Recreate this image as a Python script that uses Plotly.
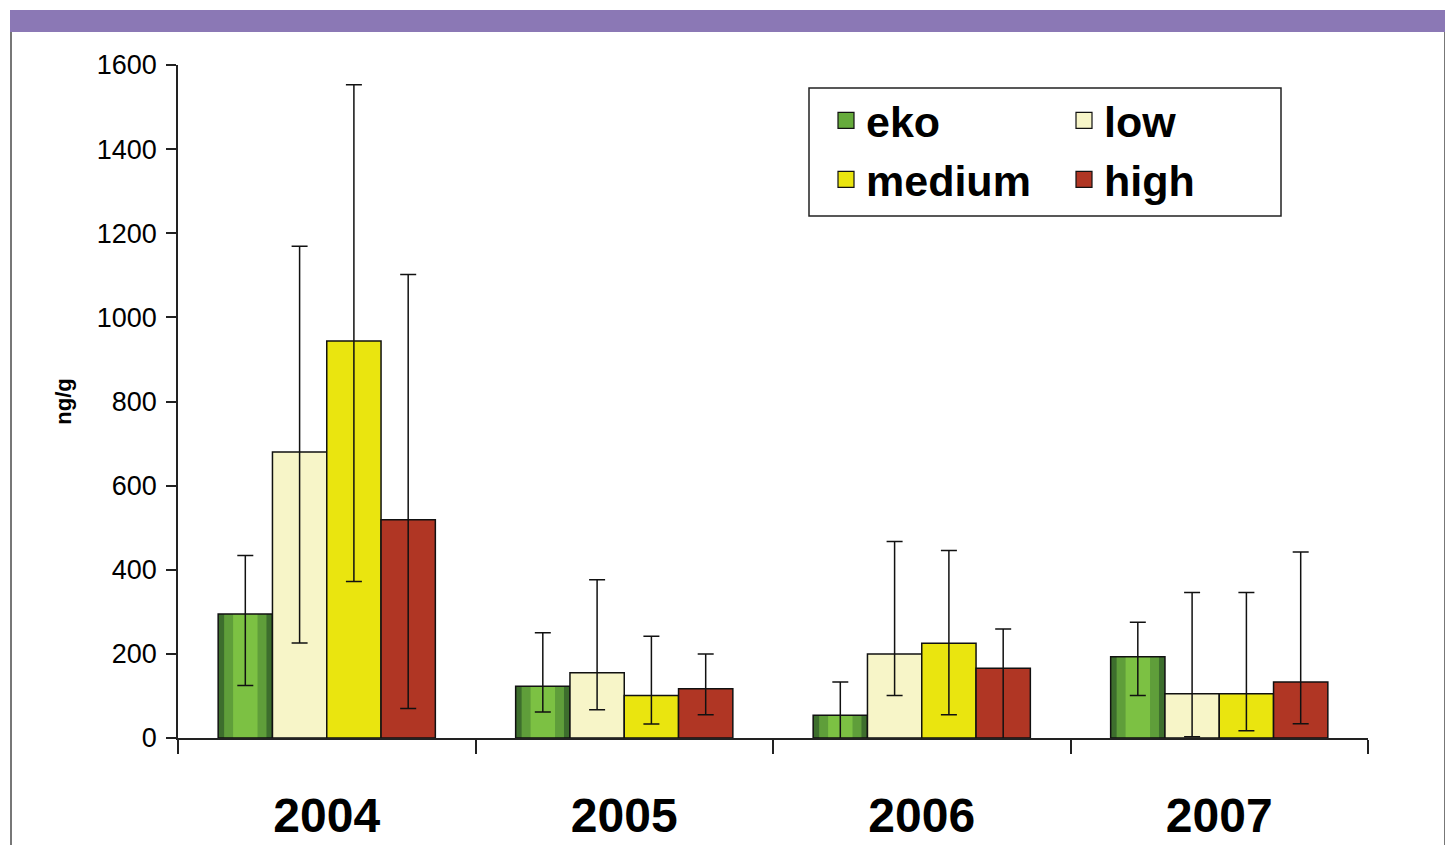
import plotly.graph_objects as go

# data
years = ["2004", "2005", "2006", "2007"]
groups = ["eko", "low", "medium", "high"]

eko = [295, 123, 54, 193]
eko_up = [139, 127, 79, 82]
eko_down = [170, 61, 79, 92]

low = [680, 155, 200, 105]
low_up = [489, 221, 267, 241]
low_down = [454, 88, 99, 102]

medium = [944, 101, 225, 105]
medium_up = [609, 141, 221, 241]
medium_down = [572, 68, 170, 88]

high = [519, 117, 166, 133]
high_up = [583, 83, 93, 309]
high_down = [449, 62, 190, 99]

colors = {"eko": "#66ab3c", "low": "#f7f5c8", "medium": "#eae50f", "high": "#b03624"}
eko_shades = ["#3d6e2d", "#5f9e3a", "#7cc143"]  # edge -> centre, fakes the cylinder look
legend_of = {"eko": "legend", "medium": "legend", "low": "legend2", "high": "legend2"}

series = {
    "eko": (eko, eko_up, eko_down),
    "low": (low, low_up, low_down),
    "medium": (medium, medium_up, medium_down),
    "high": (high, high_up, high_down),
}

# the page body has an 8px margin, so the figure is shifted by that much
OFF = 8
W, H = 1453 - OFF, 845 - OFF
L, R, T, B = 178, 1368, 65, 738  # plot area in reference px


def px(x):
    return (x - L) / (R - L)


def py(y):
    return (B - y) / (B - T)


GROUP = 0.73
BW = GROUP / len(groups)

fig = go.Figure()
for i, name in enumerate(groups):
    vals, up, down = series[name]
    off = -GROUP / 2 + i * BW
    err = dict(type="data", symmetric=False, array=up, arrayminus=down,
               color="#111111", thickness=1.5, width=8)
    if name == "eko":
        # shaded layers, no outline
        for frac, shade in zip([1.0, 0.78, 0.45], eko_shades):
            fig.add_trace(go.Bar(
                x=years, y=vals, width=BW * frac, offset=off + BW * (1 - frac) / 2,
                marker=dict(color=shade, line=dict(width=0)),
                showlegend=False, hoverinfo="skip",
            ))
        fill = "rgba(0,0,0,0)"
    else:
        fill = colors[name]
    fig.add_trace(go.Bar(
        x=years, y=vals, name=name, width=BW, offset=off,
        marker=dict(color=fill, line=dict(color="#111111", width=1.5)),
        error_y=err, showlegend=False,
    ))

# legend entries (square markers give a bigger swatch than bar icons)
for name in groups:
    fig.add_trace(go.Scatter(
        x=[None], y=[None], mode="markers", name=name,
        legend=legend_of[name], legendgroup=name,
        marker=dict(symbol="square", size=16, color=colors[name],
                    line=dict(color="#111111", width=1.2)),
    ))

legend_font = dict(family="Liberation Sans, Arial, sans-serif", size=43, color="#000000", weight="bold")

fig.update_layout(
    width=W,
    height=H,
    margin=dict(l=L - OFF, r=1453 - R, t=T - OFF, b=845 - B, pad=0, autoexpand=False),
    paper_bgcolor="white",
    plot_bgcolor="white",
    barmode="overlay",
    font=dict(family="Liberation Sans, Arial, sans-serif", color="#000000"),
    legend=dict(
        x=px(826), y=py(86), xanchor="left", yanchor="top",
        font=legend_font, bgcolor="rgba(0,0,0,0)", tracegroupgap=29,
        traceorder="normal", itemsizing="trace",
    ),
    legend2=dict(
        x=px(1064), y=py(86), xanchor="left", yanchor="top",
        font=legend_font, bgcolor="rgba(0,0,0,0)", tracegroupgap=29,
        traceorder="normal", itemsizing="trace",
    ),
    xaxis=dict(
        type="category",
        range=[-0.5, 3.5],
        automargin=False,
        showline=True, linecolor="#222222", linewidth=1.5,
        ticks="outside", tickson="boundaries", ticklen=14, tickcolor="#222222", tickwidth=1.5,
        tickfont=dict(size=48, weight="bold", family="Liberation Sans, Arial, sans-serif"),
        ticklabelstandoff=35,
        showgrid=False, zeroline=False,
    ),
    yaxis=dict(
        range=[0, 1600], dtick=200,
        automargin=False,
        showline=True, linecolor="#222222", linewidth=1.5,
        ticks="outside", ticklen=10, tickcolor="#222222", tickwidth=1.5,
        tickfont=dict(size=27, family="Liberation Sans, Arial, sans-serif"),
        ticklabelstandoff=4,
        showgrid=False, zeroline=False,
        title=dict(text="ng/g", font=dict(size=22, weight="bold"), standoff=19),
    ),
)

# purple header band and page frame
fig.add_shape(type="rect", xref="paper", yref="paper",
              x0=px(10), x1=px(1446), y0=py(32), y1=py(10),
              fillcolor="#8b78b5", line=dict(width=0), layer="below")
fig.add_shape(type="line", xref="paper", yref="paper",
              x0=px(11), x1=px(11), y0=py(32), y1=py(845),
              line=dict(color="#777777", width=2))
fig.add_shape(type="line", xref="paper", yref="paper",
              x0=px(1445), x1=px(1445), y0=py(32), y1=py(845),
              line=dict(color="#777777", width=2))

# legend box
fig.add_shape(type="rect", xref="paper", yref="paper",
              x0=px(809), x1=px(1281), y0=py(216), y1=py(88),
              line=dict(color="#222222", width=1.5), fillcolor="rgba(0,0,0,0)")

fig.write_html("out.html")
